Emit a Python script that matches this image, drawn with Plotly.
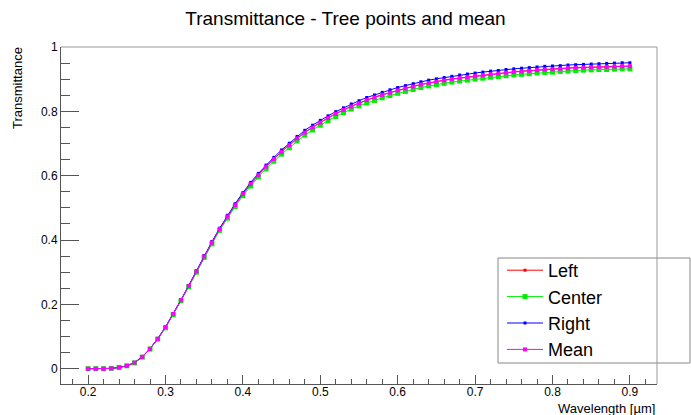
import plotly.graph_objects as go

# Wavelength samples [um]
wavelength = [round(0.20 + 0.01 * i, 2) for i in range(71)]

left = [0.000, 0.000, 0.000, 0.001, 0.004, 0.009, 0.019, 0.037, 0.062, 0.093,
        0.129, 0.170, 0.213, 0.257, 0.303, 0.350, 0.393, 0.435, 0.474, 0.510,
        0.544, 0.575, 0.603, 0.629, 0.653, 0.675, 0.696, 0.717, 0.735, 0.751,
        0.766, 0.780, 0.793, 0.805, 0.816, 0.826, 0.836, 0.844, 0.852, 0.859,
        0.866, 0.872, 0.878, 0.884, 0.889, 0.893, 0.897, 0.901, 0.904, 0.907,
        0.910, 0.913, 0.916, 0.918, 0.921, 0.923, 0.925, 0.927, 0.929, 0.931,
        0.932, 0.933, 0.935, 0.936, 0.937, 0.938, 0.939, 0.939, 0.940, 0.941,
        0.941]

center = [0.000, 0.000, 0.000, 0.001, 0.004, 0.009, 0.018, 0.036, 0.061, 0.092,
          0.127, 0.168, 0.211, 0.255, 0.300, 0.346, 0.388, 0.430, 0.468, 0.504,
          0.538, 0.568, 0.596, 0.621, 0.645, 0.667, 0.687, 0.708, 0.726, 0.742,
          0.757, 0.771, 0.784, 0.796, 0.807, 0.817, 0.826, 0.834, 0.842, 0.849,
          0.856, 0.862, 0.868, 0.874, 0.879, 0.883, 0.887, 0.891, 0.894, 0.897,
          0.900, 0.903, 0.906, 0.908, 0.911, 0.913, 0.915, 0.917, 0.919, 0.921,
          0.922, 0.924, 0.925, 0.927, 0.928, 0.929, 0.930, 0.930, 0.931, 0.932,
          0.932]

right = [0.000, 0.000, 0.000, 0.001, 0.004, 0.009, 0.019, 0.037, 0.062, 0.094,
         0.130, 0.171, 0.214, 0.259, 0.305, 0.352, 0.395, 0.437, 0.477, 0.513,
         0.547, 0.579, 0.607, 0.633, 0.657, 0.680, 0.701, 0.722, 0.741, 0.757,
         0.772, 0.786, 0.799, 0.811, 0.823, 0.833, 0.843, 0.851, 0.859, 0.867,
         0.874, 0.880, 0.886, 0.892, 0.897, 0.901, 0.905, 0.909, 0.913, 0.916,
         0.919, 0.922, 0.925, 0.927, 0.930, 0.932, 0.934, 0.936, 0.938, 0.940,
         0.941, 0.942, 0.944, 0.945, 0.946, 0.947, 0.948, 0.949, 0.950, 0.951,
         0.951]

mean = [0.000, 0.000, 0.000, 0.001, 0.004, 0.009, 0.019, 0.037, 0.062, 0.093,
        0.129, 0.170, 0.213, 0.257, 0.303, 0.349, 0.392, 0.434, 0.473, 0.509,
        0.543, 0.574, 0.602, 0.628, 0.652, 0.674, 0.695, 0.716, 0.734, 0.750,
        0.765, 0.779, 0.792, 0.804, 0.815, 0.825, 0.835, 0.843, 0.851, 0.858,
        0.865, 0.871, 0.877, 0.883, 0.888, 0.892, 0.896, 0.900, 0.903, 0.906,
        0.909, 0.912, 0.915, 0.917, 0.920, 0.922, 0.924, 0.926, 0.928, 0.930,
        0.931, 0.932, 0.934, 0.935, 0.936, 0.937, 0.938, 0.938, 0.939, 0.940,
        0.940]

x_ticks = [0.2, 0.3, 0.4, 0.5, 0.6, 0.7, 0.8, 0.9]
x_tick_text = ["0.2", "0.3", "0.4", "0.5", "0.6", "0.7", "0.8", "0.9"]
y_ticks = [0, 0.2, 0.4, 0.6, 0.8, 1.0]
y_tick_text = ["0", "0.2", "0.4", "0.6", "0.8", "1"]

series = [
    ("Left", left, "#ff0000", 3),
    ("Center", center, "#00ee00", 5),
    ("Right", right, "#0000ff", 3),
    ("Mean", mean, "#ff00ff", 4),
]

FONT = "Liberation Sans, Arial, Helvetica, sans-serif"

# Plot-area geometry in pixels
W, H = 691, 415
ML, MR, MT, MB = 61, 34, 47, 31
PW, PH = W - ML - MR, H - MT - MB


def px_x(p):
    return (p - ML) / PW


def px_y(p):
    return (H - MB - p) / PH


fig = go.Figure()
for name, vals, color, msize in series:
    fig.add_trace(go.Scatter(
        x=wavelength, y=vals, name=name, mode="lines+markers",
        line=dict(color=color, width=1),
        marker=dict(symbol="square", size=msize, color=color),
    ))

axis_common = dict(
    showgrid=False, zeroline=False, showline=True, linecolor="#555",
    linewidth=1, ticks="inside", tickcolor="#555", tickwidth=1,
    tickfont=dict(family=FONT, size=12, color="black"),
    automargin=False,
)

fig.update_layout(
    width=W, height=H,
    margin=dict(l=ML, r=MR, t=MT, b=MB, autoexpand=False),
    paper_bgcolor="white", plot_bgcolor="white",
    font=dict(family=FONT, color="black"),
    title=dict(text="Transmittance - Tree points and mean", x=0.5, xanchor="center",
               y=1 - 18 / H, yanchor="middle", font=dict(family=FONT, size=19)),
    xaxis=dict(range=[0.165, 0.935], tickvals=x_ticks, ticktext=x_tick_text,
               ticklen=9, ticklabelstandoff=-3,
               minor=dict(ticks="inside", ticklen=5, dtick=0.02, tick0=0.2,
                          tickcolor="#555", showgrid=False),
               **axis_common),
    yaxis=dict(range=[-0.0475, 1.0], tickvals=y_ticks, ticktext=y_tick_text,
               ticklen=18,
               minor=dict(ticks="inside", ticklen=9, dtick=0.05, tick0=0,
                          tickcolor="#555", showgrid=False),
               **axis_common),
    legend=dict(x=px_x(502), xanchor="left", y=px_y(252), yanchor="top",
                bgcolor="rgba(0,0,0,0)", borderwidth=0,
                font=dict(family=FONT, size=18), itemwidth=36,
                tracegroupgap=0),
    showlegend=True,
)

# Legend box
fig.add_shape(type="rect", xref="paper", yref="paper",
              x0=px_x(498), x1=px_x(690), y0=px_y(363), y1=px_y(258),
              fillcolor="white", line=dict(color="#888", width=1), layer="above")

# Frame on the top and right sides of the plot area
fig.add_shape(type="line", xref="paper", yref="paper", x0=0, x1=1, y0=1, y1=1,
              line=dict(color="#999", width=1))
fig.add_shape(type="line", xref="paper", yref="paper", x0=1, x1=1, y0=0, y1=1,
              line=dict(color="#999", width=1))

# Axis titles aligned to the end of each axis
fig.add_annotation(text="Transmittance", xref="paper", yref="paper",
                   x=px_x(17), y=px_y(45), xanchor="center", yanchor="top",
                   textangle=-90, showarrow=False,
                   font=dict(family=FONT, size=13, color="black"))
fig.add_annotation(text="Wavelength [µm]", xref="paper", yref="paper",
                   x=1.0, y=px_y(408), xanchor="right", yanchor="middle",
                   showarrow=False, font=dict(family=FONT, size=13, color="black"))

fig.write_html("out.html")
